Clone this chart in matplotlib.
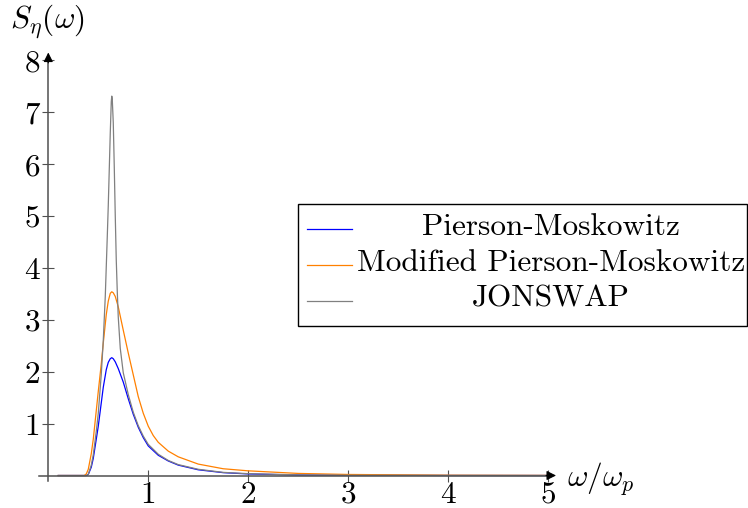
import matplotlib
matplotlib.use('Agg')
import matplotlib.pyplot as plt
from matplotlib.patches import Rectangle
from matplotlib.lines import Line2D

plt.rcParams['font.family'] = 'serif'
plt.rcParams['font.serif'] = ['cmr10']
plt.rcParams['mathtext.fontset'] = 'cm'
plt.rcParams['axes.unicode_minus'] = False

# values
x_pm = [0.10, 0.38, 0.40, 0.43, 0.45, 0.48, 0.50, 0.53, 0.55, 0.58, 0.60, 0.62,
        0.635, 0.65, 0.67, 0.70, 0.75, 0.80, 0.85, 0.90, 0.95, 1.00, 1.10, 1.20,
        1.30, 1.50, 1.75, 2.00, 2.50, 3.00, 4.00, 5.00]
s_pm = [0, 0, 0.02, 0.16, 0.33, 0.70, 0.95, 1.40, 1.70, 2.04, 2.18, 2.25,
        2.27, 2.25, 2.19, 2.06, 1.80, 1.48, 1.18, 0.93, 0.73, 0.57, 0.39, 0.28,
        0.20, 0.11, 0.055, 0.03, 0.01, 0.005, 0.001, 0]

x_mpm = [0.10, 0.36, 0.38, 0.40, 0.43, 0.45, 0.48, 0.50, 0.53, 0.55, 0.58, 0.60,
         0.62, 0.635, 0.65, 0.67, 0.70, 0.75, 0.80, 0.85, 0.90, 0.95, 1.00, 1.05,
         1.10, 1.20, 1.30, 1.50, 1.75, 2.00, 2.50, 3.00, 4.00, 5.00]
s_mpm = [0, 0, 0.03, 0.12, 0.42, 0.70, 1.25, 1.62, 2.15, 2.55, 3.10, 3.36,
         3.51, 3.54, 3.52, 3.45, 3.25, 2.80, 2.36, 1.94, 1.52, 1.20, 0.95, 0.77,
         0.64, 0.47, 0.36, 0.22, 0.13, 0.09, 0.04, 0.02, 0.006, 0.002]

x_jon = [0.10, 0.38, 0.40, 0.43, 0.45, 0.48, 0.50, 0.53, 0.55, 0.57, 0.59, 0.60,
         0.61, 0.62, 0.63, 0.635, 0.64, 0.65, 0.66, 0.67, 0.68, 0.69, 0.70, 0.72,
         0.75, 0.80, 0.85, 0.90, 0.95, 1.00, 1.10, 1.20, 1.30, 1.50, 1.75, 2.00,
         2.50, 3.00, 4.00, 5.00]
s_jon = [0, 0, 0.02, 0.20, 0.40, 0.85, 1.20, 1.95, 2.60, 3.45, 4.60, 5.20,
         5.90, 6.60, 7.20, 7.31, 7.25, 6.80, 5.95, 5.00, 4.15, 3.55, 3.05, 2.45,
         1.98, 1.56, 1.22, 0.96, 0.76, 0.60, 0.41, 0.29, 0.21, 0.12, 0.06, 0.035,
         0.012, 0.005, 0.001, 0]

labels = ['Pierson-Moskowitz', 'Modified Pierson-Moskowitz', 'JONSWAP']
colors = ['#0000ff', '#ff8000', '#808080']
x_ticks = [1, 2, 3, 4, 5]
y_ticks = [1, 2, 3, 4, 5, 6, 7, 8]

W, H = 748, 508
FS = 22.5
AXIS_COLOR = '#505050'

fig = plt.figure(figsize=(W / 100, H / 100), dpi=100)

# axes placed so that x=0 -> px 48.3, 100 px/unit ; y=0 -> px 475.5, 51.9 px/unit
xlim = (-0.2, 5.2)
ylim = (-0.2, 8.3)
px_x0, px_per_x = 48.3, 99.95
px_y0, px_per_y = 475.5, 51.9
left = px_x0 + xlim[0] * px_per_x
right = px_x0 + xlim[1] * px_per_x
bottom = px_y0 - ylim[0] * px_per_y
top = px_y0 - ylim[1] * px_per_y
ax = fig.add_axes([left / W, 1 - bottom / H, (right - left) / W, (bottom - top) / H])
ax.set_xlim(*xlim)
ax.set_ylim(*ylim)
ax.patch.set_visible(False)

for xs, ys, c in zip([x_pm, x_mpm, x_jon], [s_pm, s_mpm, s_jon], colors):
    ax.plot(xs, ys, color=c, lw=0.9)

# pgfplots style "axis lines = middle"
for side in ['top', 'right']:
    ax.spines[side].set_visible(False)
ax.spines['left'].set_position(('data', 0))
ax.spines['bottom'].set_position(('data', 0))
ax.spines['left'].set_bounds(-0.1, 8.05)
ax.spines['bottom'].set_bounds(-0.093, 5.0)
for side in ['left', 'bottom']:
    ax.spines[side].set_color(AXIS_COLOR)
    ax.spines[side].set_linewidth(1.1)

ax.set_xticks(x_ticks)
ax.set_yticks(y_ticks)
ax.tick_params(direction='inout', length=8, width=0.8, color=AXIS_COLOR,
               labelsize=FS)
ax.tick_params(axis='y', pad=2)
ax.tick_params(axis='x', pad=0)

ax.annotate('', xy=(5.08, 0), xytext=(4.98, 0),
            arrowprops=dict(arrowstyle='-|>', color='black', lw=0.8,
                            mutation_scale=14, shrinkA=0, shrinkB=0))
ax.annotate('', xy=(0, 8.15), xytext=(0, 7.95),
            arrowprops=dict(arrowstyle='-|>', color='black', lw=0.8,
                            mutation_scale=14, shrinkA=0, shrinkB=0))

fig.text(47 / W, 1 - 22 / H, r'$S_\eta(\omega)$', fontsize=FS,
         ha='center', va='center')
fig.text(567 / W, 1 - 479 / H, r'$\omega/\omega_p$', fontsize=FS,
         ha='left', va='center')

# legend drawn by hand (pgfplots centres the entries)
fig.patches.append(Rectangle((298 / W, 1 - 326 / H), (747 - 298) / W, (326 - 204) / H,
                             transform=fig.transFigure, fill=False,
                             edgecolor='black', lw=1.0))
row_y = [227, 263, 299]
for lab, c, yy in zip(labels, colors, row_y):
    fig.lines.append(Line2D([307 / W, 352 / W], [1 - (yy + 2) / H, 1 - (yy + 2) / H],
                            transform=fig.transFigure, color=c, lw=0.9))
    fig.text(551 / W, 1 - yy / H, lab, fontsize=FS, ha='center', va='center')

fig.savefig('out.png', dpi=100)
